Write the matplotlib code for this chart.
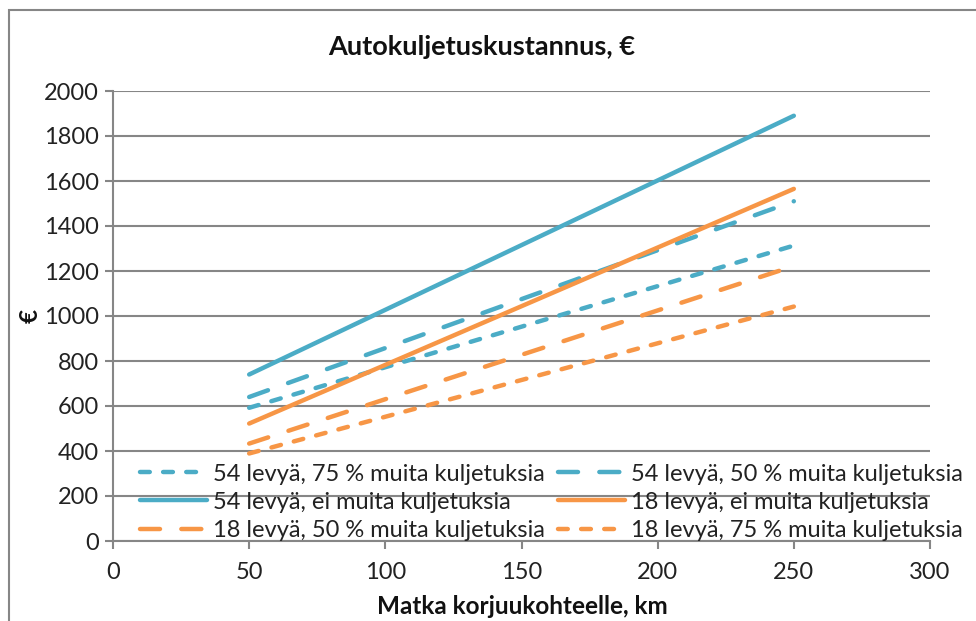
import matplotlib
matplotlib.use("Agg")
import matplotlib.pyplot as plt
from matplotlib.patches import Rectangle

plt.rcParams['font.family'] = ['Lato', 'DejaVu Sans']

# Data
distance_km = [50, 250]
s54_ei = [740, 1890]
s54_50 = [640, 1510]
s54_75 = [592, 1313]
s18_ei = [522, 1565]
s18_50 = [433, 1222]
s18_75 = [389, 1042]

labels = {
    "s54_75": "54 levyä, 75 % muita kuljetuksia",
    "s54_50": "54 levyä, 50 % muita kuljetuksia",
    "s54_ei": "54 levyä, ei muita kuljetuksia",
    "s18_ei": "18 levyä, ei muita kuljetuksia",
    "s18_50": "18 levyä, 50 % muita kuljetuksia",
    "s18_75": "18 levyä, 75 % muita kuljetuksia",
}

title = "Autokuljetuskustannus, €"
xlabel = "Matka korjuukohteelle, km"
ylabel = "€"
xticks = [0, 50, 100, 150, 200, 250, 300]
yticks = [0, 200, 400, 600, 800, 1000, 1200, 1400, 1600, 1800, 2000]

BLUE = "#4BACC6"
ORANGE = "#F79646"
GRID = "#868686"

fig = plt.figure(figsize=(9.76, 6.21), dpi=100)
# chart border
fig.add_artist(Rectangle((8.5/976, -0.02), 1.1, 1 - 9.5/621 + 0.02, transform=fig.transFigure,
                         fill=False, edgecolor=GRID, linewidth=1.5))
ax = fig.add_axes([113/976, 1 - 541/621, (930 - 113)/976, (541 - 91)/621])

lw = 3.2
long_dash = (0, (4.5, 4.8))
short_dash = (0, (2.2, 3.0))

lines = {}
lines["s54_ei"], = ax.plot(distance_km, s54_ei, color=BLUE, lw=lw, solid_capstyle='round')
lines["s54_50"], = ax.plot(distance_km, s54_50, color=BLUE, lw=lw, linestyle=long_dash, dash_capstyle='round')
lines["s54_75"], = ax.plot(distance_km, s54_75, color=BLUE, lw=lw, linestyle=short_dash, dash_capstyle='round')
lines["s18_ei"], = ax.plot(distance_km, s18_ei, color=ORANGE, lw=lw, solid_capstyle='round')
lines["s18_50"], = ax.plot(distance_km, s18_50, color=ORANGE, lw=lw, linestyle=long_dash, dash_capstyle='round')
lines["s18_75"], = ax.plot(distance_km, s18_75, color=ORANGE, lw=lw, linestyle=short_dash, dash_capstyle='round')

ax.set_xlim(0, 300)
ax.set_ylim(0, 2000)
ax.set_xticks(xticks)
ax.set_yticks(yticks)
ax.grid(axis='y', color=GRID, linewidth=1.5)
ax.set_axisbelow(True)
for s in ['top', 'right']:
    ax.spines[s].set_visible(False)
for s in ['left', 'bottom']:
    ax.spines[s].set_color(GRID)
    ax.spines[s].set_linewidth(1.5)
ax.tick_params(axis='both', colors=GRID, width=1.5, length=6, labelsize=17, labelcolor='#222222')
ax.tick_params(axis='x', pad=9)
ax.tick_params(axis='y', pad=4)

fig.text(482/976, 1 - 47/621, title, ha='center', va='center', fontsize=19.5, fontweight='bold', color='#111111')
fig.text(522/976, 1 - 606/621, xlabel, ha='center', va='center', fontsize=17.5, fontweight='bold', color='#111111')
fig.text(30/976, 1 - 316/621, ylabel, ha='center', va='center', fontsize=17.5, fontweight='bold', rotation=90, color='#111111')

order = ["s54_75", "s54_ei", "s18_50", "s54_50", "s18_ei", "s18_75"]
leg = ax.legend([lines[k] for k in order], [labels[k] for k in order], ncol=2,
                loc='lower left', bbox_to_anchor=(22/817, -0.01), frameon=False,
                fontsize=17, handlelength=2.85, handletextpad=0.25, columnspacing=0.55,
                labelspacing=0.3, borderaxespad=0.1, borderpad=0.1)
for t in leg.get_texts():
    t.set_color('#222222')

fig.savefig("out.png", dpi=100)
